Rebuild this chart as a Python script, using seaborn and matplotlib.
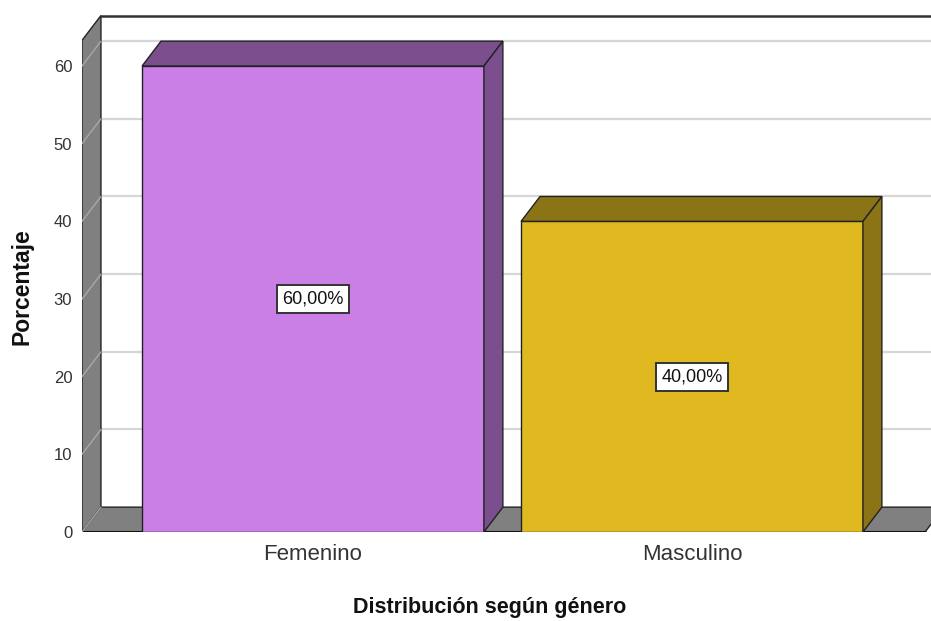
import numpy as np
import pandas as pd
import seaborn as sns
import matplotlib
matplotlib.use('Agg')
import matplotlib.pyplot as plt
from matplotlib.patches import Polygon

generos = ['Femenino', 'Masculino']
porcentajes = [60.0, 40.0]
colores = ['#C97FE5', '#E0B920']      # cara frontal
colores_osc = ['#7B4F8D', '#8B7416']  # tapa y lateral
yticks = [0, 10, 20, 30, 40, 50, 60]

sns.set_style('white')
plt.rcParams['font.family'] = ['Liberation Sans', 'DejaVu Sans']

df = pd.DataFrame({'genero': generos, 'porcentaje': porcentajes})

fig = plt.figure(figsize=(9.31, 6.21), dpi=100)
ax = fig.add_axes([82/931, 89/621, 849/931, 532/621])

# profundidad del efecto 3D (en unidades de datos)
dx, dy = 0.05, 3.2
xl, xr = -0.6095, 1.6306
top = 63.3
floor_r = 1.615

sns.barplot(data=df, x='genero', y='porcentaje', hue='genero', palette=colores,
            saturation=1, width=0.902, edgecolor='#222222', linewidth=1,
            legend=False, ax=ax, zorder=3)

# pared izquierda
ax.add_patch(Polygon([(xl, 0), (xl, top), (xl + dx, top + dy), (xl + dx, dy)],
                     closed=True, facecolor='#808080', edgecolor='#222222', lw=1, zorder=1))
# lineas de cuadricula (pared del fondo y pared izquierda)
for v in yticks[1:]:
    ax.plot([xl + dx, xr], [v + dy, v + dy], color='#d6d6d6', lw=1.6, zorder=0.5)
    ax.plot([xl, xl + dx], [v, v + dy], color='#a8a8a8', lw=1.0, zorder=1.5)
# borde superior del fondo
ax.plot([xl + dx, xr], [top + dy, top + dy], color='#333333', lw=1.8, zorder=1)
# suelo
ax.add_patch(Polygon([(xl, 0), (floor_r, 0), (floor_r + dx, dy), (xl + dx, dy)],
                     closed=True, facecolor='#808080', edgecolor='#222222', lw=1, zorder=2))
ax.plot([xl, floor_r], [0, 0], color='#111111', lw=2.2, zorder=2.1)
ax.plot([xl, xl + dx], [0, dy], color='#a8a8a8', lw=1.0, zorder=2.2)

barras = [b for c in ax.containers for b in c]
barras.sort(key=lambda b: b.get_x())
for i, p in enumerate(barras):
    x0 = p.get_x()
    x1 = x0 + p.get_width()
    h = p.get_height()
    ax.add_patch(Polygon([(x0, h), (x0 + dx, h + dy), (x1 + dx, h + dy), (x1, h)],
                         closed=True, facecolor=colores_osc[i], edgecolor='#222222', lw=1, zorder=3))
    ax.add_patch(Polygon([(x1, 0), (x1, h), (x1 + dx, h + dy), (x1 + dx, dy)],
                         closed=True, facecolor=colores_osc[i], edgecolor='#222222', lw=1, zorder=3))
    ax.text((x0 + x1) / 2, h / 2, f'{h:.2f}%'.replace('.', ','), ha='center', va='center',
            fontsize=13, color='#111111', zorder=5,
            bbox=dict(boxstyle='square,pad=0.3', facecolor='white', edgecolor='#333333', lw=1.4))

ax.set_xlim(xl, xr)
ax.set_ylim(0, 68.5)
for s in ax.spines.values():
    s.set_visible(False)
ax.set_yticks(yticks)
ax.tick_params(axis='y', length=0, pad=7, labelsize=12, labelcolor='#333333')
ax.tick_params(axis='x', length=0, pad=9, labelsize=16, labelcolor='#333333')
ax.set_xlabel('')
ax.set_ylabel('')

fig.text(490/931, 1 - 607/621, 'Distribución según género', ha='center', va='center',
         fontsize=15.5, fontweight='bold', color='#111111')
fig.text(22/931, 1 - 287/621, 'Porcentaje', ha='center', va='center', rotation=90,
         fontsize=16.5, fontweight='bold', color='#111111')

fig.savefig('out.png', dpi=100)
